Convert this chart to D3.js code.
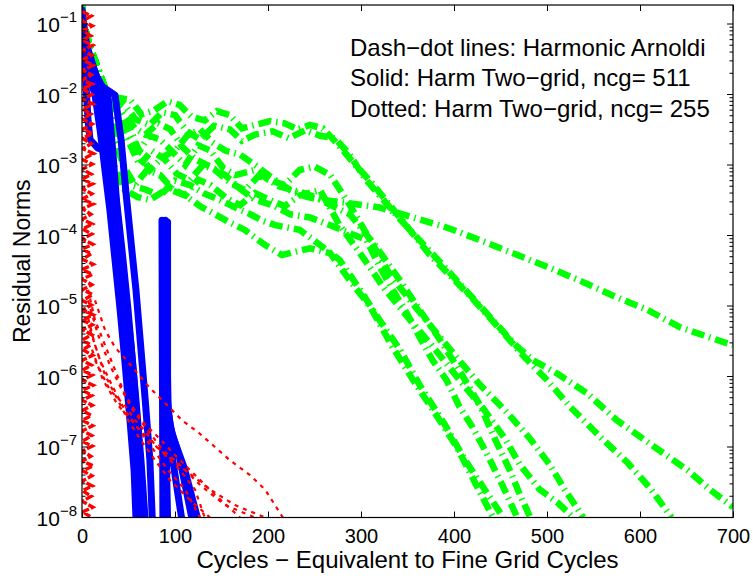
<!DOCTYPE html>
<html>
<head>
<meta charset="utf-8">
<script src="https://cdn.jsdelivr.net/npm/d3@7"></script>
<style>
body { margin: 0; background: #fff; }
text { font-family: "Liberation Sans", Arial, Helvetica, sans-serif; fill: #000; }
</style>
</head>
<body>
<div id="chart"></div>
<script>
// axis limits and ticks
var xTicks = [0, 100, 200, 300, 400, 500, 600, 700]
var yExponents = [-8, -7, -6, -5, -4, -3, -2, -1]
var yMax = 0.186

var notes = ["Dash\u2212dot lines: Harmonic Arnoldi",
  "Solid: Harm Two\u2212grid, ncg= 511",
  "Dotted: Harm Two\u2212grid, ncg= 255"]

// Harmonic Arnoldi (green dash-dot)
var arnoldi1 = [[0,1.8e-1],[3,9e-2],[8,5e-2],[15,2.8e-2],[25,1.2e-2],[41,4.3e-3],[52,2.4e-3],[62,1.6e-3],[72,2.6e-3],[84,2.3e-3],[98,1.5e-3],[111,1e-3],[125,1.9e-3],[138,1.6e-3],[152,9e-4],[165,7.2e-4],[186,8.5e-4],[200,6.2e-4],[213,4.9e-4],[236,4.1e-4],[259,3.2e-4],[285,2.9e-4],[320,2.5e-4],[392,1.3e-4],[428,8.6e-5],[500,3.6e-5],[535,2.3e-5],[571,1.4e-5],[608,8.8e-6],[643,5e-6],[689,3.1e-6],[700,2.8e-6]]
var arnoldi2 = [[0,1.8e-1],[3,9e-2],[8,5e-2],[15,2.8e-2],[25,1.2e-2],[46,7.1e-3],[58,4.4e-3],[73,3.7e-3],[86,5.6e-3],[100,5.1e-3],[113,3e-3],[127,2.3e-3],[142,3.6e-3],[159,3.2e-3],[172,2.2e-3],[186,2.7e-3],[205,3e-3],[222,2.4e-3],[240,3.1e-3],[256,2.6e-3],[272,2.4e-3],[288,1.4e-3],[304,6.5e-4],[342,1.7e-4],[385,4.2e-5],[428,1e-5],[466,2.8e-6],[485,1.7e-6],[511,1.1e-6],[543,5.8e-7],[575,2.4e-7],[600,1.4e-7],[625,8.2e-8],[651,4.7e-8],[675,2.5e-8],[700,1.4e-8]]
var arnoldi3 = [[0,1.8e-1],[3,9e-2],[8,5e-2],[15,2.8e-2],[25,1.2e-2],[38,9e-3],[52,8.4e-3],[64,5.2e-3],[78,6e-3],[92,8e-3],[105,7.1e-3],[118,4.8e-3],[132,4.3e-3],[145,5.8e-3],[159,5.1e-3],[172,3.3e-3],[186,3.7e-3],[202,4.2e-3],[218,3.9e-3],[232,3.2e-3],[245,3.7e-3],[259,3.3e-3],[276,1.9e-3],[294,1e-3],[312,5.5e-4],[331,2.7e-4],[374,5.3e-5],[417,1.4e-5],[455,3.9e-6],[474,2e-6],[500,8.9e-7],[525,3.7e-7],[557,1.4e-7],[586,6.1e-8],[611,2.6e-8],[634,1e-8]]
var arnoldi4 = [[0,1.8e-1],[3,9e-2],[8,5e-2],[15,2.8e-2],[25,1.2e-2],[41,3.2e-3],[52,1.9e-3],[62,1e-3],[75,1.6e-3],[89,1.2e-3],[102,7.5e-4],[116,6.1e-4],[130,1e-3],[143,8.5e-4],[160,5.5e-4],[175,4.4e-4],[190,7e-4],[202,6.1e-4],[218,5.2e-4],[234,8.5e-4],[250,9.5e-4],[267,7.2e-4],[288,2.7e-4],[310,8.6e-5],[331,2.8e-5],[353,1.2e-5],[374,5.4e-6],[401,2e-6],[428,7.6e-7],[455,3.3e-7],[482,1.3e-7],[503,5.6e-8],[519,2.5e-8],[539,1e-8]]
var arnoldi5 = [[0,1.8e-1],[3,9e-2],[8,5e-2],[15,2.8e-2],[25,1.2e-2],[35,2.3e-3],[46,9e-4],[57,5.2e-4],[70,8.5e-4],[84,7.2e-4],[97,4.6e-4],[111,3.7e-4],[125,6.2e-4],[138,5.2e-4],[155,3.4e-4],[170,2.7e-4],[186,4e-4],[202,3.2e-4],[218,2.6e-4],[234,3.7e-4],[256,4.4e-4],[277,1.4e-4],[304,4.5e-5],[326,1.7e-5],[353,6.3e-6],[380,2.4e-6],[406,8.9e-7],[433,3.3e-7],[455,1.3e-7],[471,5.6e-8],[492,2.5e-8],[512,1.6e-8],[528,1e-8]]
var arnoldi6 = [[0,1.8e-1],[3,9e-2],[8,5e-2],[15,2.8e-2],[25,1.2e-2],[40,6e-3],[52,3.2e-3],[62,1.5e-3],[73,8.5e-4],[87,1.3e-3],[100,1.6e-3],[113,2.6e-3],[127,3.2e-3],[140,2.1e-3],[154,1.6e-3],[170,1.4e-3],[186,1e-3],[205,6.5e-4],[224,4.4e-4],[240,3.6e-4],[256,3.2e-4],[288,2e-4],[315,7.3e-5],[342,2.3e-5],[363,8.8e-6],[385,3.3e-6],[406,1.2e-6],[428,3.9e-7],[444,1.3e-7],[460,4.7e-8],[471,2.1e-8],[482,1e-8]]
var arnoldi7 = [[0,1.8e-1],[3,9e-2],[8,5e-2],[15,2.8e-2],[25,1.2e-2],[46,5.1e-3],[57,3.3e-3],[68,2.7e-3],[82,3.9e-3],[95,3.2e-3],[108,1.8e-3],[122,1.2e-3],[138,9.5e-4],[154,7.2e-4],[170,4.6e-4],[186,3.2e-4],[205,2.7e-4],[224,2e-4],[245,1.8e-4],[267,1.4e-4],[306,8.6e-5],[320,3.6e-5],[334,1.7e-5],[349,8e-6],[363,3.6e-6],[377,1.7e-6],[392,8.9e-7],[406,3.7e-7],[420,1.9e-7],[435,8.2e-8],[453,2.7e-8],[468,1e-8]]
var arnoldi8 = [[0,1.8e-1],[3,9e-2],[8,5e-2],[15,2.8e-2],[25,1.2e-2],[39,1.6e-3],[52,5.2e-4],[68,4.5e-4],[84,3.7e-4],[100,6e-4],[116,5.2e-4],[132,3.9e-4],[148,3.2e-4],[165,2.5e-4],[181,2e-4],[195,1.6e-4],[208,1.4e-4],[234,1.2e-4],[255,7.5e-5],[277,4.5e-5],[299,1.7e-5],[320,6.3e-6],[342,2.4e-6],[363,7.6e-7],[390,2.1e-7],[412,6.5e-8],[433,2.5e-8],[453,1e-8]]
var arnoldi9 = [[0,1.8e-1],[3,9e-2],[8,5e-2],[15,2.8e-2],[25,1.2e-2],[32,1.2e-3],[46,4.4e-4],[60,3.5e-4],[73,3.2e-4],[92,4.6e-4],[111,3.7e-4],[127,2.6e-4],[143,2e-4],[160,1.5e-4],[175,1.2e-4],[197,7.3e-5],[215,5.3e-5],[245,6.6e-5],[267,5.6e-5],[288,2.3e-5],[310,9.7e-6],[334,2.6e-6],[356,8.9e-7],[382,2.7e-7],[403,1e-7],[425,2.7e-8],[442,1e-8]]

// Harm Two-grid, ncg = 511 (blue solid)
var ncg511a = [[0,0.158],[2,0.059],[6.5,0.022],[14,0.0098],[19.4,0.0032],[24.7,8.5e-4],[30,2.3e-4],[35.5,4.5e-5],[41,8.8e-6],[46,1.7e-6],[51.6,2.4e-7],[56,4.7e-8],[58,1e-8]]
var ncg511b = [[0,0.134],[4,0.043],[10.8,0.016],[19.4,0.0084],[24.7,0.0023],[30,5.2e-4],[35.5,1.2e-4],[41,2.3e-5],[46,4.6e-6],[51.6,8.9e-7],[57,1.7e-7],[62.4,3.4e-8],[64.5,1e-8]]
var ncg511c = [[0,0.114],[6.5,0.036],[14,0.016],[24.7,0.0098],[30,0.0023],[35.5,4.4e-4],[41,8.6e-5],[46,1.7e-5],[52.7,2.8e-6],[58,4.6e-7],[63.4,6.5e-8],[67.7,1e-8]]
var ncg511d = [[0,0.097],[8.6,0.031],[19.4,0.0136],[35.5,0.0098],[42,0.0023],[47,4.4e-4],[52.5,8.6e-5],[58,1.7e-5],[63,2.8e-6],[68,4.6e-7],[73,6.5e-8],[75.5,1e-8]]
var ncg511e = [[0,0.082],[4,0.016],[6.5,0.0043],[8.6,0.0023],[17,0.00174],[24.7,0.00163],[30,6.1e-4],[34.4,1.66e-4],[38.7,4.5e-5],[43,8.8e-6],[48.4,1.7e-6],[53.8,2.4e-7],[58,4.7e-8],[61,1e-8]]
var ncg511f = [[0,0.15],[5,0.05],[15,0.019],[28,0.0092],[33,0.00163],[37,3.2e-4],[43,6.2e-5],[49.5,8.8e-6],[55,1.24e-6],[60,1.7e-7],[65.5,1e-8]]
var ncg511g = [[86,1.65e-4],[86.5,1e-6],[87,1e-8]]
var ncg511h = [[89.5,1.65e-4],[89.5,1e-6],[90,1.9e-7],[92,1e-8]]
var ncg511i = [[92,1.55e-4],[92,1e-6],[93,1.9e-7],[98,6e-8],[107,1e-8]]
var ncg511j = [[91,1.5e-4],[91.5,5e-7],[95,1.9e-7],[105,7e-8],[118,1e-8]]
var ncg511k = [[90,1.5e-4],[91,4e-7],[97,1.5e-7],[110,5e-8],[124,1e-8]]

// Harm Two-grid, ncg = 255 (red dotted)
var ncg255band = [[0.5,1.5e-1],[10,1.3e-1],[0.4,1.1e-1],[11,9.4e-2],[0.6,8e-2],[9.5,6.8e-2],[0.3,5.9e-2],[11.5,5e-2],[0.5,4.2e-2],[10.5,3.6e-2],[0.4,3.1e-2],[12,2.6e-2],[0.7,2.2e-2],[10,1.9e-2],[0.3,1.6e-2],[11,1.4e-2],[0.5,1.2e-2],[10.5,1e-2],[0.4,8.6e-3],[12,7.3e-3],[0.6,6.2e-3],[9.5,5.3e-3],[0.3,4.5e-3],[11,3.8e-3],[0.5,3.2e-3],[11.5,2.8e-3],[0.4,2.4e-3],[10,2e-3],[0.7,1.7e-3],[12.5,1.45e-3],[0.3,1.2e-3],[11,1.03e-3],[0.5,8.7e-4],[10,7.4e-4],[0.4,6.3e-4],[11.5,5.4e-4],[0.6,4.6e-4],[10.5,3.9e-4],[0.3,3.3e-4],[12,2.8e-4],[0.5,2.4e-4],[9.5,2e-4],[0.4,1.7e-4],[11,1.45e-4],[0.7,1.23e-4],[10.5,1.05e-4],[0.3,8.9e-5],[11.5,7.5e-5],[0.5,6.4e-5],[10,5.5e-5],[0.4,4.6e-5],[12,3.9e-5],[0.6,3.3e-5],[11,2.8e-5],[0.3,2.4e-5],[10.5,2e-5],[0.5,1.7e-5],[11.5,1.45e-5],[0.4,1.2e-5],[10,1.03e-5],[0.7,8.8e-6],[12,7.5e-6],[0.3,6.3e-6],[11,5.4e-6],[0.5,4.6e-6],[10.5,3.9e-6],[0.4,3.3e-6],[9.5,2.8e-6],[0.6,2.4e-6],[11.5,2e-6],[0.3,1.7e-6],[10,1.45e-6],[0.5,1.23e-6],[11,1.05e-6],[0.4,8.9e-7],[12,7.5e-7],[0.7,6.4e-7],[10.5,5.4e-7],[0.3,4.6e-7],[11,3.9e-7],[0.5,3.3e-7],[10,2.8e-7],[0.4,2.4e-7],[11.5,2e-7],[0.6,1.7e-7],[10.5,1.45e-7],[0.3,1.2e-7],[11,1.03e-7],[0.5,8.8e-8],[9.5,7.4e-8],[0.4,6.3e-8],[12,5.4e-8],[0.7,4.6e-8],[10.5,3.9e-8],[0.3,3.3e-8],[11,2.8e-8],[0.5,2.4e-8],[10,2e-8],[0.4,1.7e-8],[11.5,1.4e-8],[0.6,1.2e-8],[10.5,1e-8]]
var ncg255a = [[14,1.2e-5],[24.7,4.6e-6],[35.5,2.6e-6],[50.5,1.55e-6],[72,7.1e-7],[89.2,4.2e-7],[107.5,2.4e-7],[125.8,1.58e-7],[143,1e-7],[159,6.5e-8],[180.6,4e-8],[196.8,2.5e-8],[216,1e-8]]
var ncg255b = [[6.5,1.7e-5],[14,6.3e-6],[24.7,2.8e-6],[35.5,1.24e-6],[46.2,5.5e-7],[57,3.3e-7],[67.7,2.1e-7],[83.9,1.3e-7],[100,7.7e-8],[121.5,4e-8],[143,2.1e-8],[170,1e-8]]
var ncg255c = [[6.5,1.2e-5],[17.2,3.9e-6],[30,1.45e-6],[43,6.4e-7],[54.8,3.3e-7],[71,1.7e-7],[87.1,9e-8],[105.4,5.6e-8],[126.9,2.9e-8],[153.8,1.5e-8],[186,1e-8]]
var ncg255d = [[4.3,8.8e-6],[14,2.8e-6],[24.7,1.05e-6],[38.7,4.6e-7],[49.5,2.4e-7],[62.4,1.3e-7],[78.5,6.5e-8],[94.6,3.4e-8],[116,1.77e-8],[137.6,1e-8]]
var ncg255e = [[8.6,4.6e-6],[19.4,1.7e-6],[32,7.6e-7],[46.2,3.3e-7],[62.4,1.7e-7],[83.9,9e-8],[110.8,4.7e-8],[137.6,2.5e-8],[164.5,1.5e-8],[196.8,1e-8]]
var ncg255f = [[10.8,2.4e-6],[22.6,8.9e-7],[38.7,3.9e-7],[57,2.1e-7],[73.1,1.07e-7],[92.5,4.7e-8],[110.8,2.5e-8],[126.9,1e-8]]
var ncg255g = [[14,1.7e-6],[30,6.4e-7],[46.2,3.9e-7],[57,2.4e-7],[67.7,1.7e-7],[78.5,1.07e-7],[89.2,7.7e-8],[105.4,4.7e-8],[121.5,2.5e-8],[132,1e-8]]

var margin = {top: 5, right: 20, bottom: 61.5, left: 82}
var width = 753 - margin.left - margin.right
var height = 579 - margin.top - margin.bottom

var svg = d3.select('#chart').append('svg')
  .attr('width', 753)
  .attr('height', 579)
  .style('display', 'block')
var g = svg.append('g')
  .attr('transform', 'translate(' + margin.left + ',' + margin.top + ')')

var x = d3.scaleLinear().domain([0, 700]).range([0, width])
var y = d3.scaleLog().domain([1e-8, yMax]).range([height, 0])

svg.append('defs').append('clipPath').attr('id', 'plotclip')
  .append('rect').attr('width', width).attr('height', height)

var line = d3.line()
  .x(function(d) { return x(d[0]) })
  .y(function(d) { return y(d[1]) })

var plot = g.append('g').attr('clip-path', 'url(#plotclip)')

var greens = [arnoldi1, arnoldi2, arnoldi3, arnoldi4, arnoldi5, arnoldi6, arnoldi7, arnoldi8, arnoldi9]
var blues = [ncg511a, ncg511b, ncg511c, ncg511d, ncg511e, ncg511f, ncg511g, ncg511h, ncg511i, ncg511j, ncg511k]
var reds = [ncg255a, ncg255b, ncg255c, ncg255d, ncg255e, ncg255f, ncg255g]

plot.selectAll('.arnoldi').data(greens).enter()
  .append('path').attr('class', 'arnoldi')
  .attr('d', line)
  .attr('fill', 'none')
  .attr('stroke', '#00ff00')
  .attr('stroke-width', 6.5)
  .attr('stroke-dasharray', '13,5,1.5,5')

plot.selectAll('.ncg511').data(blues).enter()
  .append('path').attr('class', 'ncg511')
  .attr('d', line)
  .attr('fill', 'none')
  .attr('stroke', '#0000ff')
  .attr('stroke-width', 7)
  .attr('stroke-linejoin', 'round')
  .attr('stroke-linecap', 'round')

plot.append('path').datum(ncg255band)
  .attr('d', line)
  .attr('fill', 'none')
  .attr('stroke', '#ff0000')
  .attr('stroke-width', 3.4)
  .attr('stroke-dasharray', '7,2')

plot.selectAll('.ncg255').data(reds).enter()
  .append('path').attr('class', 'ncg255')
  .attr('d', line)
  .attr('fill', 'none')
  .attr('stroke', '#ff0000')
  .attr('stroke-width', 2.2)
  .attr('stroke-dasharray', '4,5')

// box
g.append('rect')
  .attr('width', width).attr('height', height)
  .attr('fill', 'none').attr('stroke', '#000').attr('stroke-width', 1.2)

// x ticks, bottom and top, pointing inward
var xAxis = g.append('g').attr('transform', 'translate(0,' + height + ')')
  .call(d3.axisBottom(x).tickValues(xTicks).tickSize(-6).tickSizeOuter(0).tickPadding(11))
xAxis.select('.domain').remove()
xAxis.selectAll('text').style('font-size', '20px').attr('fill', '#000')
xAxis.selectAll('line').attr('stroke', '#000')

var xTop = g.append('g')
  .call(d3.axisTop(x).tickValues(xTicks).tickSize(-6).tickSizeOuter(0).tickFormat(''))
xTop.select('.domain').remove()
xTop.selectAll('line').attr('stroke', '#000')

// y ticks: decades and minors on both sides
var minors = []
yExponents.forEach(function(e) {
  for (var m = 2; m <= 9; m++) {
    var v = m * Math.pow(10, e)
    if (v < yMax) minors.push(v)
  }
})
var majors = yExponents.map(function(e) { return Math.pow(10, e) })

;[0, width].forEach(function(x0) {
  var dir = x0 === 0 ? 1 : -1
  g.selectAll(null).data(majors).enter().append('line')
    .attr('x1', x0).attr('x2', x0 + dir * 6)
    .attr('y1', d => y(d)).attr('y2', d => y(d))
    .attr('stroke', '#000')
  g.selectAll(null).data(minors).enter().append('line')
    .attr('x1', x0).attr('x2', x0 + dir * 3.5)
    .attr('y1', d => y(d)).attr('y2', d => y(d))
    .attr('stroke', '#000')
})

var ylab = g.selectAll('.ylab').data(yExponents).enter()
  .append('text').attr('class', 'ylab')
  .attr('x', -5)
  .attr('y', d => y(Math.pow(10, d)) + 8)
  .attr('text-anchor', 'end')
ylab.append('tspan').style('font-size', '21px').text('10')
ylab.append('tspan').attr('dy', -10).style('font-size', '15px')
  .text(d => '\u2212' + Math.abs(d))

// axis titles
svg.append('text')
  .attr('x', margin.left + width / 2)
  .attr('y', 568)
  .attr('text-anchor', 'middle')
  .style('font-size', '24px')
  .text('Cycles \u2212 Equivalent to Fine Grid Cycles')

svg.append('text')
  .attr('transform', 'translate(30,' + (margin.top + height / 2) + ') rotate(-90)')
  .attr('text-anchor', 'middle')
  .style('font-size', '23px')
  .text('Residual Norms')

// annotation
svg.selectAll('.note').data(notes).enter()
  .append('text').attr('class', 'note')
  .attr('x', 350)
  .attr('y', (d, i) => 55.5 + i * 30.5)
  .style('font-size', '24px')
  .text(d => d)
</script>
</body>
</html>
